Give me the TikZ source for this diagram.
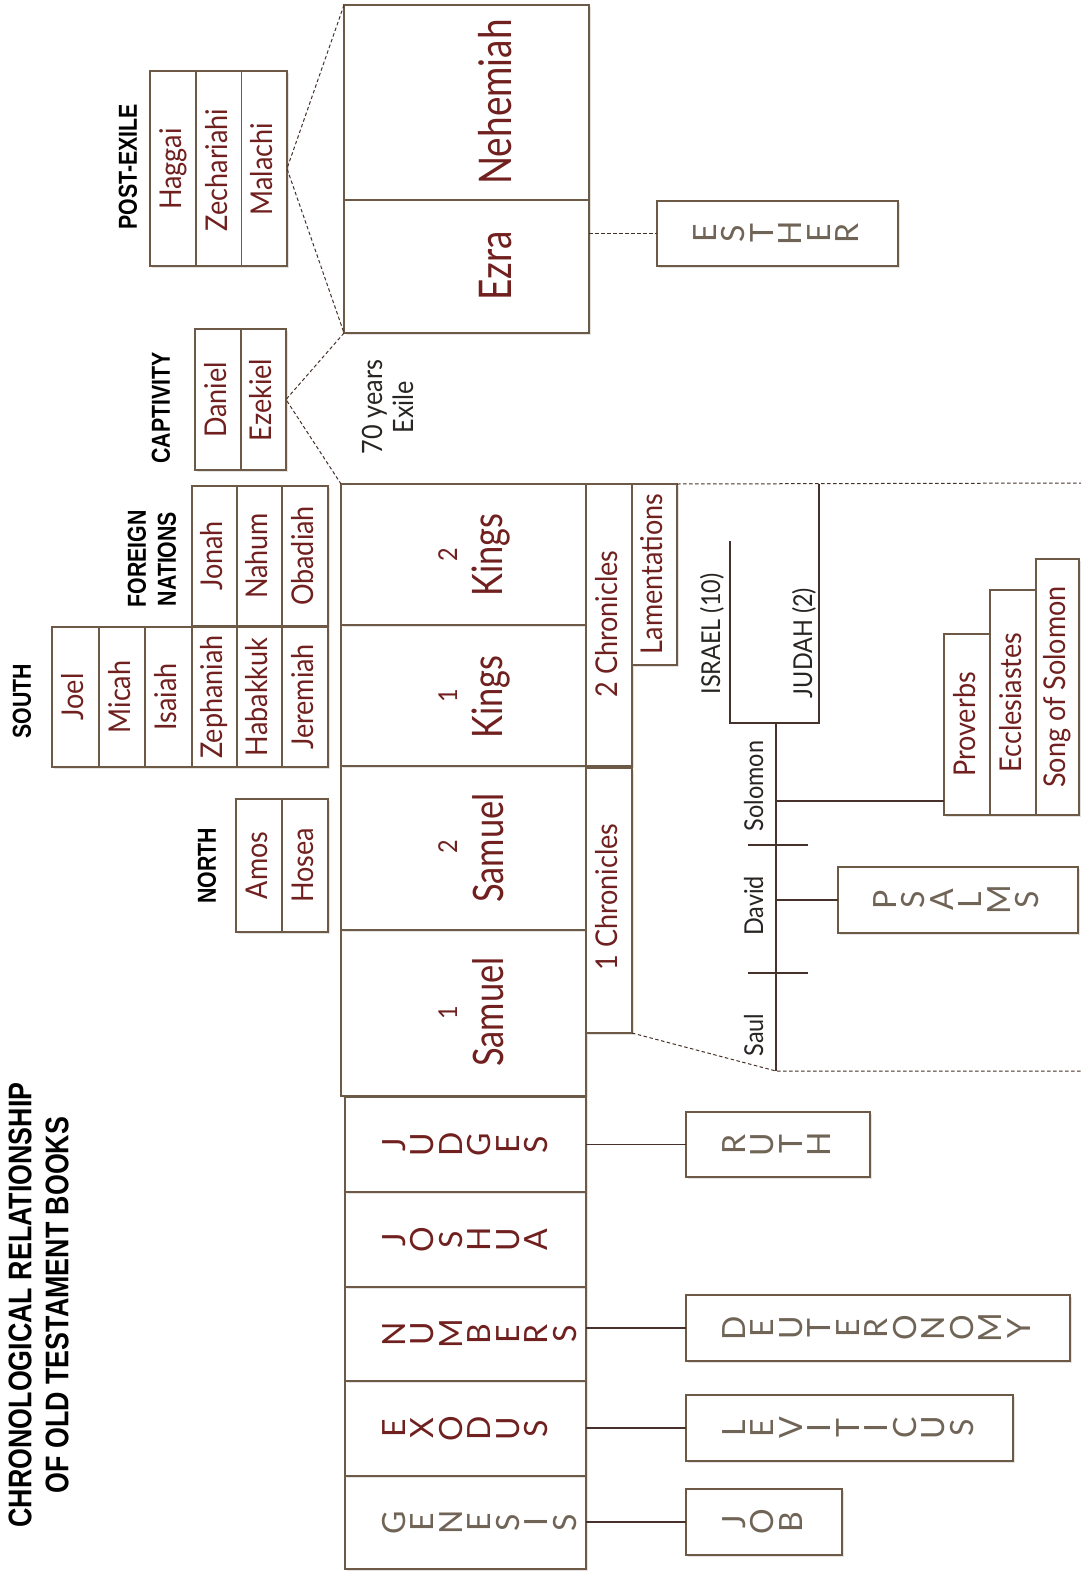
\documentclass[tikz,border=0pt]{standalone}
\usepackage{fontspec}
\usetikzlibrary{fit,shadows}
\newfontfamily\bookf{Lato}[FakeStretch=0.9]
\newfontfamily\bigf{Lato}[FakeStretch=0.82]
\newfontfamily\stackf{Lato}
\newfontfamily\labf{Liberation Sans}[FakeStretch=0.82]
\definecolor{boxc}{RGB}{108,90,70}
\definecolor{linec}{RGB}{70,50,42}
\definecolor{maroonc}{RGB}{112,32,30}
\definecolor{greyb}{RGB}{112,100,86}
\definecolor{inkc}{RGB}{40,36,34}
\tikzset{
  bx/.style={draw=boxc, line width=1.5pt, fill=white, inner sep=0pt, outer sep=0pt,
    drop shadow={shadow xshift=1.6pt, shadow yshift=-1.6pt, opacity=0.18, fill=black!60}},
  conn/.style={draw=linec, line width=1.3pt},
  dconn/.style={draw=linec, line width=1pt, dash pattern=on 3.5pt off 2.5pt},
  nm/.style={rotate=90, anchor=base, inner sep=0pt, text=maroonc, font=\bookf\fontsize{30}{36}\selectfont},
  nmink/.style={nm, text=inkc},
  smallink/.style={nm, text=inkc, font=\bookf\fontsize{26}{30}\selectfont},
  bigname/.style={nm, font=\bigf\fontsize{42}{48}\selectfont},
  biggername/.style={nm, font=\bigf\fontsize{45}{52}\selectfont},
  numname/.style={nm, font=\bookf\fontsize{26}{30}\selectfont},
  letterstack/.style={rotate=90, anchor=north, inner sep=0pt, align=center, text=maroonc, font=\stackf\fontsize{32}{28.5}\selectfont},
  greystack/.style={letterstack, text=greyb},
  lab/.style={rotate=90, inner sep=0pt, align=center, text=black, font=\labf\bfseries\fontsize{26}{30}\selectfont},
}
\begin{document}
\begin{tikzpicture}[x=1pt,y=-1pt]
\useasboundingbox (0,0) rectangle (1081,1571);
\fill[white] (0,0) rectangle (1081,1571);

% ---------- title and group labels
\node[lab, font=\labf\bfseries\fontsize{32.7}{37}\selectfont] (title) at (38.5,1305) {CHRONOLOGICAL RELATIONSHIP\\OF OLD TESTAMENT BOOKS};
\node[lab] (l-post) at (128,167) {POST-EXILE};
\node[lab] (l-capt) at (161,408) {CAPTIVITY};
\node[lab] (l-for) at (152,559) {FOREIGN\\NATIONS};
\node[lab] (l-south) at (22,701) {SOUTH};
\node[lab] (l-north) at (207,866) {NORTH};

% ---------- main column
\node[bx, fit={(345,1476) (586,1569)}] (genesis) {};
\node[bx, fit={(345,1381) (586,1476)}] (exodus) {};
\node[bx, fit={(345,1287) (586,1381)}] (numbers) {};
\node[bx, fit={(345,1192) (586,1287)}] (joshua) {};
\node[bx, fit={(345,1097) (586,1192)}] (judges) {};
\node[bx, fit={(341,930) (586,1096)}] (sam1) {};
\node[bx, fit={(341,766) (586,930)}] (sam2) {};
\node[bx, fit={(341,625) (586,766)}] (kings1) {};
\node[bx, fit={(341,484) (586,625)}] (kings2) {};
\node[bx, fit={(586,484) (632,766)}] (chron2) {};
\node[bx, fit={(586,768) (632,1033)}] (chron1) {};
\node[bx, fit={(632,484) (677,665)}] (lament) {};
\node[bx, fit={(344,5) (589,200)}] (nehemiah) {};
\node[bx, fit={(344,200) (589,333)}] (ezra) {};

% ---------- prophets
\node[bx, fit={(150,71) (196,266)}] (haggai) {};
\node[bx, fit={(196,71) (241.5,266)}] (zech) {};
\node[bx, fit={(241.5,71) (287,266)}] (malachi) {};
\node[bx, fit={(195,329) (241,470)}] (daniel) {};
\node[bx, fit={(241,329) (286,470)}] (ezekiel) {};
\node[bx, fit={(192,486) (237,626)}] (jonah) {};
\node[bx, fit={(237,486) (282,626)}] (nahum) {};
\node[bx, fit={(282,486) (328,626)}] (obadiah) {};
\node[bx, fit={(52,627) (99,767)}] (joel) {};
\node[bx, fit={(99,627) (145,767)}] (micah) {};
\node[bx, fit={(145,627) (192,767)}] (isaiah) {};
\node[bx, fit={(192,627) (237,767)}] (zeph) {};
\node[bx, fit={(237,627) (282,767)}] (habak) {};
\node[bx, fit={(282,627) (328,767)}] (jerem) {};
\node[bx, fit={(236,799) (282,932)}] (amos) {};
\node[bx, fit={(282,799) (328,932)}] (hosea) {};

% ---------- side books
\node[bx, fit={(944,634) (990,815)}] (proverbs) {};
\node[bx, fit={(990,590) (1036,815)}] (eccl) {};
\node[bx, fit={(1036,559) (1079,815)}] (song) {};
\node[bx, fit={(838,867) (1078,933)}] (psalms) {};
\node[bx, fit={(686,1112) (870,1177)}] (ruth) {};
\node[bx, fit={(686,1295) (1070,1361)}] (deut) {};
\node[bx, fit={(686,1395) (1013,1461)}] (levit) {};
\node[bx, fit={(686,1489) (842,1555)}] (job) {};
\node[bx, fit={(657,201) (898,266)}] (esther) {};

% ---------- connectors
\draw[conn] (judges.east |- ruth.west) -- (ruth.west);
\draw[conn] (numbers.east |- deut.west) -- (deut.west);
\draw[conn] (exodus.east |- levit.west) -- (levit.west);
\draw[conn] (genesis.east |- job.west) -- (job.west);
\draw[dconn] (ezra.east |- esther.west) -- (esther.west);
\draw[dconn] (nehemiah.north west) -- (malachi.east) -- (ezra.south west);
\draw[dconn] (ezra.south west) -- (ezekiel.east) -- (kings2.north west);

\coordinate (topend) at (1081,483);
\coordinate (reignbot) at (776,1071);
\coordinate (botend) at (1081,1071);
\coordinate (isrtop) at (730,541);
\coordinate (isrcorner) at (730,723);
\coordinate (split) at (776,723);
\coordinate (judcorner) at (819,723);
\coordinate (judtop) at (819,484);
\coordinate (tickAa) at (748,845);
\coordinate (tickAb) at (808,845);
\coordinate (tickBa) at (748,973);
\coordinate (tickBb) at (808,973);
\coordinate (solc) at (776,801);

\draw[dconn] (lament.north east) -- (topend);
\draw[dconn] (chron1.south east) -- (reignbot) -- (botend);
\draw[conn] (isrtop) -- (isrcorner) -- (judcorner) -- (judtop);
\draw[conn] (split) -- (reignbot);
\draw[conn] (tickAa) -- (tickAb);
\draw[conn] (tickBa) -- (tickBb);
\draw[conn] (solc) -- (proverbs.west |- solc);
\draw[conn] (psalms.west -| split) -- (psalms.west);

% ---------- stacked letter titles
\node[greystack] (t-gen) at (382,1522.5) {G\\E\\N\\E\\S\\I\\S};
\node[letterstack] (t-exo) at (382,1428.5) {E\\X\\O\\D\\U\\S};
\node[letterstack] (t-num) at (382,1334) {N\\U\\M\\B\\E\\R\\S};
\node[letterstack] (t-josh) at (382,1239.5) {J\\O\\S\\H\\U\\A};
\node[letterstack] (t-judg) at (382,1144.5) {J\\U\\D\\G\\E\\S};
\node[greystack] (t-job) at (722,1522) {J\\O\\B};
\node[greystack] (t-lev) at (722,1428) {L\\E\\V\\I\\T\\I\\C\\U\\S};
\node[greystack] (t-deut) at (722,1328) {D\\E\\U\\T\\E\\R\\O\\N\\O\\M\\Y};
\node[greystack] (t-ruth) at (722,1144.5) {R\\U\\T\\H};
\node[greystack] (t-esth) at (693,233.5) {E\\S\\T\\H\\E\\R};
\node[greystack] (t-psal) at (873,900) {P\\S\\A\\L\\M\\S};

% ---------- large names
\node[biggername] (t-neh) at (511,102) {Nehemiah};
\node[biggername] (t-ezra) at (511,266) {Ezra};
\node[bigname] (t-k2) at (502,555) {Kings};
\node[numname] (t-k2n) at (457,555) {2};
\node[bigname] (t-k1) at (502,697) {Kings};
\node[numname] (t-k1n) at (457,696) {1};
\node[bigname] (t-s2) at (503,848) {Samuel};
\node[numname] (t-s2n) at (457,847) {2};
\node[bigname] (t-s1) at (503,1012) {Samuel};
\node[numname] (t-s1n) at (457,1013) {1};

% ---------- column names
\node[nm] (t-ch2) at (617,624) {2 Chronicles};
\node[nm] (t-ch1) at (617,897) {1 Chronicles};
\node[nm] (t-lam) at (662,574) {Lamentations};
\node[nm] (t-hag) at (181,169) {Haggai};
\node[nm] (t-zec) at (227,170) {Zechariahi};
\node[nm] (t-mal) at (272,169) {Malachi};
\node[nm] (t-dan) at (226,400) {Daniel};
\node[nm] (t-eze) at (271.5,400) {Ezekiel};
\node[nm] (t-jon) at (222.5,556) {Jonah};
\node[nm] (t-nah) at (267.5,556) {Nahum};
\node[nm] (t-oba) at (313,556) {Obadiah};
\node[nm] (t-joel) at (83.5,697) {Joel};
\node[nm] (t-mic) at (130,697) {Micah};
\node[nm] (t-isa) at (176.5,697) {Isaiah};
\node[nm] (t-zep) at (222.5,697) {Zephaniah};
\node[nm] (t-hab) at (267.5,697) {Habakkuk};
\node[nm] (t-jer) at (313,697) {Jeremiah};
\node[nm] (t-amo) at (267,865.5) {Amos};
\node[nm] (t-hos) at (313,865.5) {Hosea};
\node[nm] (t-pro) at (975,724.5) {Proverbs};
\node[nm] (t-ecc) at (1021,702.5) {Ecclesiastes};
\node[nm] (t-song) at (1065.5,687) {Song of Solomon};

% ---------- kingdom notes
\node[smallink] (t-isr) at (720,634) {ISRAEL (10)};
\node[smallink] (t-jud) at (812,643) {JUDAH (2)};
\node[smallink] (t-sol) at (763,786) {Solomon};
\node[smallink] (t-dav) at (763,906) {David};
\node[smallink] (t-saul) at (763,1035) {Saul};
\node[nmink, font=\bookf\fontsize{28}{32}\selectfont] (t-70) at (382,407) {70 years};
\node[nmink, font=\bookf\fontsize{28}{32}\selectfont] (t-exile) at (413,407) {Exile};
\end{tikzpicture}
\end{document}
